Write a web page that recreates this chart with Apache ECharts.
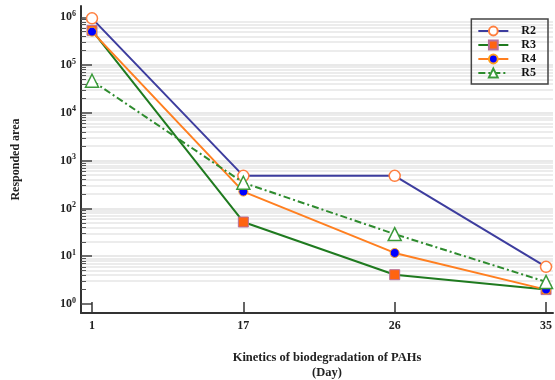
<!DOCTYPE html>
<html>
<head>
<meta charset="utf-8">
<script src="https://cdn.jsdelivr.net/npm/echarts@6/dist/echarts.min.js"></script>
<style>html,body{margin:0;padding:0;background:#fff}#c{width:555px;height:380px}</style>
</head>
<body>
<div id="c"></div>
<script>
var days = ['1', '17', '26', '35'];
var R2 = [950000, 480, 480, 6];
var R3 = [530000, 52, 4.1, 2];
var R4 = [500000, 225, 11.7, 2];
var R5 = [47000, 345, 29, 2.9];
var majorTicks = [1, 10, 100, 1000, 10000, 100000, 1000000];
var exps = ['0', '1', '2', '3', '4', '5', '6'];
var minorMult = [2, 3, 4, 5, 6, 7, 8, 9];

var minorTicks = [];
majorTicks.slice(0, 6).forEach(function (p) {
  minorMult.forEach(function (m) { minorTicks.push(m * p); });
});
var xIdx = days.map(function (d, i) { return i; });
function pts(arr) { return arr.map(function (v, i) { return [xIdx[i], v]; }); }

var FONT = 'Liberation Serif';
var YMIN = 0.648, YMAX = 1.72e6;

var chart = echarts.init(document.getElementById('c'));
chart.setOption({
  animation: false,
  backgroundColor: '#fff',
  textStyle: { fontFamily: FONT },
  grid: { left: 81, right: 2, top: 6, bottom: 67, containLabel: false, outerBoundsMode: 'none' },
  legend: {
    orient: 'vertical', right: 7, top: 19,
    padding: [6, 12, 5, 6],
    borderColor: '#444', borderWidth: 1.5,
    itemWidth: 30, itemHeight: 11, itemGap: 2,
    textStyle: { fontFamily: FONT, fontWeight: 'bold', fontSize: 12, lineHeight: 12, color: '#111', padding: [0, 0, 0, 8] },
    data: ['R2', 'R3', 'R4', 'R5']
  },
  xAxis: {
    type: 'value', min: -0.0727, max: 3.046,
    name: 'Kinetics of biodegradation of PAHs\n(Day)',
    nameLocation: 'middle', nameGap: 37,
    nameTextStyle: { fontFamily: FONT, fontWeight: 'bold', fontSize: 12.5, color: '#222', lineHeight: 15, padding: [0, 0, 0, 20] },
    axisLine: { onZero: false, lineStyle: { color: '#333', width: 2 } },
    axisTick: { inside: true, length: 11, customValues: xIdx, lineStyle: { color: '#333', width: 1.5 } },
    axisLabel: { customValues: xIdx, margin: 7, fontFamily: FONT, fontWeight: 'bold', fontSize: 12, color: '#222',
      formatter: function (v) { return days[Math.round(v)]; } },
    splitLine: { show: false }
  },
  yAxis: [{
    type: 'log', min: YMIN, max: YMAX,
    name: 'Responded area', nameLocation: 'middle', nameGap: 59,
    nameTextStyle: { fontFamily: FONT, fontWeight: 'bold', fontSize: 12, color: '#222' },
    axisLine: { show: true, onZero: false, lineStyle: { color: '#333', width: 2 } },
    axisTick: { inside: true, length: 11, customValues: majorTicks, lineStyle: { color: '#444', width: 1.5 } },
    axisLabel: { customValues: majorTicks, margin: 5,
      formatter: function (v) {
        var e = Math.round(Math.log10(v));
        return '{b|10}{s|' + exps[e] + '}';
      },
      rich: {
        b: { fontFamily: FONT, fontWeight: 'bold', fontSize: 12, color: '#222' },
        s: { fontFamily: FONT, fontWeight: 'bold', fontSize: 8, color: '#222', verticalAlign: 'top', padding: [0, 0, 7, 0] }
      }
    },
    splitLine: { show: true, showMinLine: false, showMaxLine: false, lineStyle: { color: '#e2e2e2', width: 1.5 } }
  }, {
    type: 'log', min: YMIN, max: YMAX, position: 'left',
    axisLine: { show: false, onZero: false },
    axisTick: { show: true, inside: true, length: 5, customValues: minorTicks, lineStyle: { color: '#555', width: 1 } },
    axisLabel: { show: false },
    splitLine: { show: true, showMinLine: false, showMaxLine: false, lineStyle: { color: '#e6e6e6', width: 1.5 } }
  }],
  series: [
    { name: 'R2', type: 'line', data: pts(R2), symbol: 'circle', symbolSize: 11,
      lineStyle: { color: '#3d3d9e', width: 2 },
      itemStyle: { color: '#fff', borderColor: '#ff7f3f', borderWidth: 1.5 }, z: 3 },
    { name: 'R3', type: 'line', data: pts(R3), symbol: 'rect', symbolSize: 10,
      lineStyle: { color: '#1f7a1f', width: 2 },
      itemStyle: { color: '#ff6410', borderColor: '#b9709a', borderWidth: 1 }, z: 4 },
    { name: 'R4', type: 'line', data: pts(R4), symbol: 'circle', symbolSize: 9,
      lineStyle: { color: '#ff7f20', width: 2 },
      itemStyle: { color: '#0000ff', borderColor: '#ffa020', borderWidth: 1 }, z: 5 },
    { name: 'R5', type: 'line', data: pts(R5), symbol: 'triangle', symbolSize: 13,
      lineStyle: { color: '#2e8b2e', width: 2, type: [7, 3, 2, 3] },
      itemStyle: { color: '#fff', borderColor: '#3a9a3a', borderWidth: 1.5 }, z: 6 }
  ]
});
</script>
</body>
</html>
